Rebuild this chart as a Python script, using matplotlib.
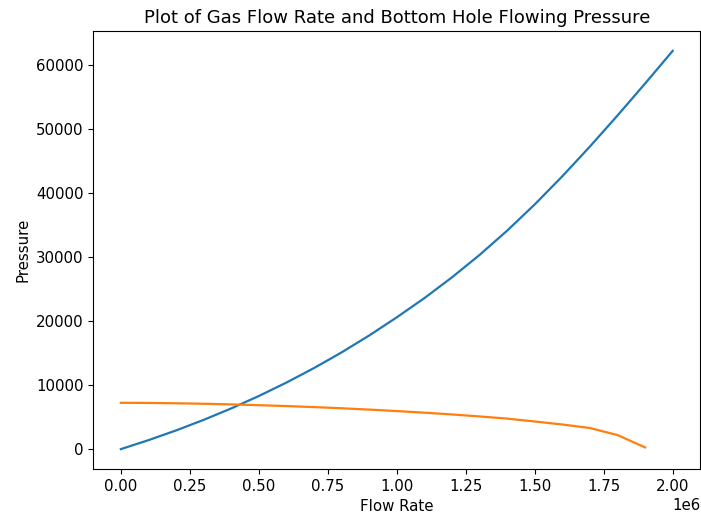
import matplotlib
matplotlib.use("Agg")
import matplotlib.pyplot as plt

# Gas flow rate (scf/d) and the two pressure curves
flow_rate = [0.0, 0.1e6, 0.2e6, 0.3e6, 0.4e6, 0.5e6, 0.6e6, 0.7e6, 0.8e6, 0.9e6,
             1.0e6, 1.1e6, 1.2e6, 1.3e6, 1.4e6, 1.5e6, 1.6e6, 1.7e6, 1.8e6, 1.9e6, 2.0e6]

tubing_pressure = [0, 1400, 2920, 4570, 6360, 8300, 10400, 12670, 15120, 17760,
                   20600, 23600, 26850, 30350, 34150, 38250, 42650, 47300, 52150,
                   57150, 62250]

ipr_flow_rate = flow_rate[:-1]
bhfp = [7240, 7220, 7170, 7090, 6990, 6870, 6730, 6570, 6390, 6180,
        5950, 5700, 5420, 5110, 4770, 4320, 3850, 3300, 2200, 270]

fig = plt.figure(figsize=(7.01, 5.16), dpi=100)
ax = fig.add_axes([0.133, 0.091, 0.866, 0.849])

ax.plot(flow_rate, tubing_pressure, color="#1f77b4", linewidth=1.6)
ax.plot(ipr_flow_rate, bhfp, color="#ff7f0e", linewidth=1.6)

ax.set_title("Plot of Gas Flow Rate and Bottom Hole Flowing Pressure", fontsize=13)
ax.set_xlabel("Flow Rate", fontsize=10.8)
ax.set_ylabel("Pressure", fontsize=10.8)
ax.tick_params(labelsize=10.8)
ax.xaxis.get_offset_text().set_fontsize(10.8)

fig.savefig("out.png", dpi=100)
